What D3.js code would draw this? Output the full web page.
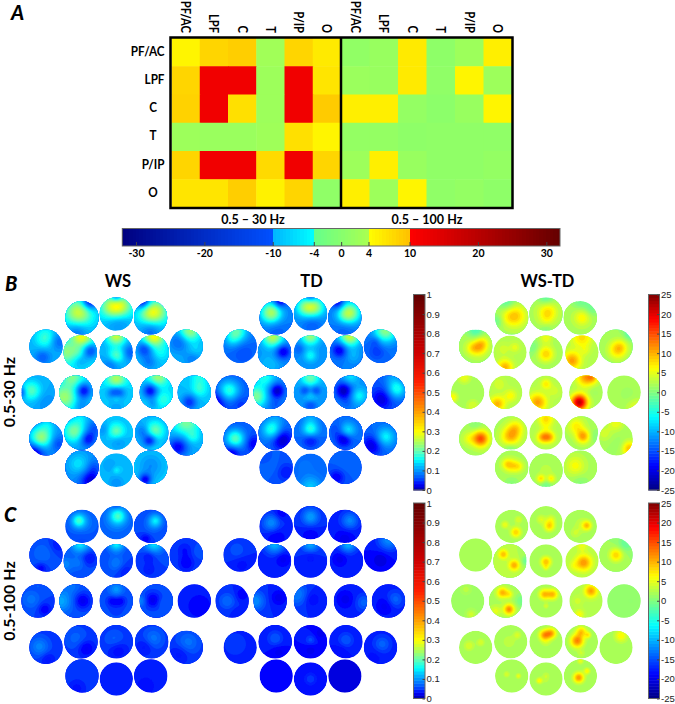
<!DOCTYPE html>
<html><head><meta charset="utf-8">
<script src="https://cdn.jsdelivr.net/npm/d3@7"></script>
<style>html,body{margin:0;background:#fff}svg{display:block}</style></head>
<body><svg id="c" width="675" height="704"></svg>
<script>
const regions=["PF/AC","LPF","C","T","P/IP","O"];
const coh30=[[5,8,8.7,3,8,6],[8,12,12,2.5,12,6.5],[8.3,12,7,2.5,12,9],[2.5,2.2,2.2,2.8,7,5],[8,12,12,7.5,12,8],[6.5,6.5,8.7,5.2,8,1]];
const coh100=[[1.2,2,6,.8,2.5,5.5],[2.3,2,6,1,5,2.5],[5.5,5.5,1.5,.6,2,5],[1.5,1.5,.8,1,1,1],[2.5,5.5,2,1,1,1.5],[5.5,2.5,5,1,1.5,.8]];
const barTicks=[-30,-20,-10,-4,0,4,10,20,30];
const unitTicks=[0,.1,.2,.3,.4,.5,.6,.7,.8,.9,1];
const diffTicks=[-25,-20,-15,-10,-5,0,5,10,15,20,25];
// each map: [base, [x,y,radius,delta]...] in unit-disc coordinates
const wsB=[
[.13,[-.2,-.3,.5,.14],[.45,-.95,.3,-.12],[-.3,.8,.4,-.05]],
[.14,[-.3,-.4,.4,.11],[.3,-.45,.4,.11],[0,-1.05,.2,-.1],[.1,.6,.5,-.04]],
[.13,[.3,-.35,.45,.13],[-.2,-.3,.4,.06],[-.45,-.95,.3,-.12],[0,.8,.4,-.05]],
[.12,[0,-.5,.4,.07],[.7,-.3,.35,-.05],[-.2,.65,.3,-.05]],
[.15,[.1,-1,.4,.15],[-.8,0,.4,.08],[.6,-.1,.3,-.09],[0,.5,.3,-.03],[-.1,0,.25,.03]],
[.12,[0,-1,.35,.15],[0,.2,.3,.08],[.85,0,.3,-.05],[-.3,.7,.3,-.04]],
[.13,[.1,-1,.4,.18],[-.45,-.2,.3,-.08],[.5,0,.3,.03],[-.2,.6,.3,-.04]],
[.12,[.2,-.9,.4,.12],[-.4,-.3,.4,-.05],[.5,.3,.3,.03],[.4,.7,.3,-.04]],
[.12,[-.4,-.1,.35,.08],[-1,0,.2,-.07],[.5,.6,.4,-.02]],
[.14,[-.7,.3,.45,.1],[-.2,-.9,.4,.08],[.45,-.1,.3,-.11],[.3,.8,.3,-.04]],
[.14,[0,-.8,.35,.11],[-.2,0,.25,-.06],[.2,0,.25,-.06],[0,.35,.2,.03],[0,.9,.3,-.03]],
[.14,[.1,-.9,.35,.1],[-.35,-.1,.3,-.11],[.4,.4,.3,.04],[-.2,.7,.2,-.03]],
[.13,[.3,-.2,.3,.05],[.3,-.9,.3,.04],[-.3,.6,.3,-.08]],
[.1,[-.3,-.05,.4,.14],[-.7,.8,.4,-.09],[.7,.3,.3,-.04],[.1,-.8,.3,.04]],
[.11,[-.4,-.1,.4,.11],[.4,.35,.3,-.08],[.8,-.3,.3,-.04],[0,-.9,.3,.03]],
[.13,[0,-.1,.3,.08],[-.8,-.2,.25,-.03],[.1,.5,.3,-.03]],
[.12,[.2,-.15,.35,.09],[-.1,.45,.25,-.1],[-.5,-.1,.25,-.04],[.1,.9,.3,.03]],
[.12,[0,-1,.5,.1],[-.5,.5,.4,-.09],[.4,-.1,.25,.04]],
[.1,[-.2,-.2,.4,.05],[.5,.8,.4,-.08],[.7,0,.3,-.03]],
[.13,[0,0,.15,.03],[-.4,-.3,.3,-.02],[0,.8,.3,-.03]],
[.14,[0,-.1,.5,-.04],[-.34,.76,.25,-.1]]];
const tdB=[
[.09,[-.3,-.3,.4,.16],[.2,-.95,.25,-.08],[0,.7,.4,-.02]],
[.1,[-.3,-.4,.35,.12],[.3,-.4,.35,.12],[0,-1.05,.2,-.06],[.1,.7,.4,-.03]],
[.09,[.3,-.3,.4,.16],[-.1,-.1,.3,.03],[-.4,-.9,.25,-.07],[0,.7,.4,-.02]],
[.08,[-.2,-.9,.4,.12],[-.5,-.4,.3,.04],[.2,.4,.4,-.02]],
[.1,[-.1,-.95,.4,.16],[.5,-.05,.3,-.08],[-.3,.7,.4,.03]],
[.1,[0,-1,.35,.14],[0,.2,.25,.06],[-.7,-.2,.2,-.03]],
[.09,[.2,-1,.4,.18],[-.4,-.15,.3,-.07],[.4,.2,.3,.03]],
[.08,[.3,-.95,.45,.15],[-.2,.3,.3,-.03],[-.3,-.3,.2,-.03]],
[.07,[-.2,-.1,.4,.11],[-.9,.5,.4,-.05],[.4,.6,.3,-.02]],
[.1,[-.85,.25,.4,.12],[-.3,-.9,.4,.07],[.4,-.1,.3,-.09],[.3,.8,.3,-.03]],
[.11,[0,-.9,.35,.1],[-.3,-.1,.2,-.06],[.3,-.1,.2,-.06],[0,.2,.25,.04],[0,.8,.25,-.05]],
[.1,[0,-.9,.3,.05],[-.4,-.1,.35,-.09],[.5,.2,.3,.06],[-.2,.7,.25,-.02]],
[.07,[.5,-.2,.35,.1],[-.4,.4,.4,-.05],[.2,-.9,.3,.03]],
[.07,[-.3,0,.35,.13],[.8,.3,.3,-.04],[-.5,.8,.3,-.05]],
[.08,[-.2,-.2,.35,.1],[.4,.4,.4,-.07],[.1,-.9,.3,.02]],
[.08,[0,-.2,.3,.1],[0,.4,.3,-.05],[0,-.9,.3,.03]],
[.08,[.1,-.15,.3,.08],[-.1,.35,.3,-.07],[-.5,-.2,.3,-.02]],
[.08,[.3,-.1,.35,.08],[-.5,.4,.4,-.06]],
[.07,[.6,.3,.35,-.03],[-.3,-.1,.3,.01],[-.6,-.5,.2,-.01]],
[.075,[0,1,.4,.06],[-.3,-.2,.3,.01]],
[.07,[-.5,.6,.3,-.04],[.1,-.3,.4,.01]]];
const diffB=[
[2.5,[.2,-.1,.4,7],[-.3,0,.3,1.5],[-.3,-1,.35,-4],[-.9,.2,.25,-3]],
[2.5,[.1,-.1,.35,6],[0,.4,.25,1.5],[0,-1.05,.3,-4],[0,1,.25,-2]],
[2.5,[.1,0,.3,4.5],[0,-1,.3,-3],[.7,-.6,.3,-3]],
[2.5,[.2,.1,.3,6],[.4,-.2,.25,4],[-.2,.1,.25,4],[0,-1,.3,-5]],
[2.5,[-.3,.9,.3,8],[.3,-.3,.2,3],[-.4,-.2,.25,2]],
[2,[0,.1,.3,7],[0,-.9,.25,4],[-.8,-.3,.25,-2]],
[2.5,[-.6,.5,.35,9],[0,-.9,.4,6],[.2,-.1,.2,2]],
[2,[.1,.2,.35,7],[.3,0,.25,2],[.9,-.8,.25,-5]],
[2,[-.9,.3,.2,5],[-.2,-.9,.25,4],[.3,.8,.25,3]],
[2.5,[-.5,.7,.3,8],[.3,.2,.25,4],[-.4,-.5,.25,2.5]],
[2.5,[-.5,.6,.35,9],[0,-.5,.2,5],[.5,-.1,.25,2]],
[2.5,[-.4,.6,.3,20],[0,-.9,.35,9],[.4,-.9,.2,5],[.5,0,.2,-1]],
[2.5,[.7,.9,.3,3],[.2,.1,.3,-1]],
[2.5,[.3,0,.3,13],[-.4,0,.25,3],[0,-.9,.25,-2]],
[2.5,[0,.2,.35,8],[.3,-.3,.3,5],[0,1,.25,-3]],
[2.5,[-.2,.25,.22,8],[.2,.25,.22,8],[0,-.85,.3,6],[0,-.3,.2,1.5]],
[2.5,[.1,.2,.25,9],[-.3,-.4,.3,5],[.9,.2,.25,-2]],
[2,[.8,.6,.3,8],[0,-.95,.3,4],[-.7,-.3,.3,2.5],[.2,.4,.3,-1]],
[2.5,[0,-.1,.25,5],[-.3,-.2,.2,4],[.4,-.05,.2,4],[0,1,.25,-2]],
[2.5,[-.3,.5,.15,6],[.3,.5,.15,5],[0,0,.25,1],[0,1,.25,-3]],
[2.5,[-.3,-.1,.35,4],[0,1,.3,-2]]];
const wsC=[
[.065,[-.2,-.35,.25,.1],[0,-.2,.45,.03],[0,.8,.4,-.01]],
[.065,[.1,-.4,.3,.1],[0,-.2,.55,.03],[0,-1.05,.15,-.03]],
[.06,[.3,-.35,.25,.08],[.1,-.1,.35,.02],[-.3,.75,.2,-.03]],
[.06,[-.2,-.1,.4,.02],[.7,-.6,.3,-.02],[-.3,.8,.2,-.03]],
[.065,[0,-1.05,.35,.09],[-.9,.2,.3,.03],[.5,-.2,.3,-.03],[-.1,.1,.25,.02]],
[.06,[0,-1.05,.3,.1],[0,.15,.3,.03],[.5,.6,.3,-.02]],
[.06,[.1,-1.05,.35,.09],[-.2,-.3,.25,-.025],[-.2,.5,.25,-.02]],
[.06,[-.1,-.3,.3,-.02],[0,.5,.3,-.03],[.7,-.2,.2,.01]],
[.06,[-.4,-.1,.35,.025],[.4,.5,.25,-.03],[0,-.9,.1,.01]],
[.065,[-.9,0,.4,.05],[-.3,-.9,.3,.02],[.4,0,.3,-.04]],
[.065,[0,-.7,.25,.04],[-.25,0,.2,-.03],[.25,0,.2,-.03],[0,.5,.3,-.01]],
[.065,[-.2,-.05,.3,-.04],[.3,.1,.2,.01],[-.95,0,.2,.03]],
[.05,[.3,.3,.5,-.02]],
[.055,[-.4,-.05,.35,.04],[.1,.7,.25,-.02]],
[.055,[-.3,-.2,.4,.02],[.3,.4,.3,-.03]],
[.055,[-.1,-.1,.35,.02],[.1,.5,.35,-.025]],
[.055,[.1,-.2,.35,.03],[-.4,.3,.3,-.02]],
[.055,[.1,-.3,.4,.03],[-.4,.4,.35,-.02]],
[.055,[-.3,.75,.3,-.02]],
[.05,[0,.9,.25,-.01]],
[.05,[-.3,.6,.5,-.015]]];
const tdC=[
[.05,[-.3,-.2,.3,.05],[0,.7,.4,-.02],[.3,-.8,.25,-.02]],
[.05,[0,-.35,.3,.06],[0,.8,.35,-.02]],
[.045,[.3,-.35,.3,.05],[0,.75,.35,-.02]],
[.05,[-.2,-.3,.3,.02],[.1,.6,.3,-.015]],
[.045,[0,-1.05,.35,.08],[.5,-.1,.25,-.02]],
[.05,[0,-1.05,.3,.07],[0,-.2,.25,-.015]],
[.045,[.1,-1.05,.3,.08],[-.4,-.1,.25,-.02]],
[.04,[.5,-.95,.4,.06],[0,.3,.3,-.02]],
[.05,[-.3,0,.3,.03],[.6,-.4,.25,-.02],[.3,.7,.2,-.01]],
[.05,[-.9,0,.35,.05],[.5,-.2,.3,-.025]],
[.05,[-.8,-.4,.4,.04],[.1,-.1,.3,-.02]],
[.045,[-.3,-.1,.3,-.02],[.8,.1,.3,.03]],
[.045,[.4,-.1,.3,.03],[-.2,.3,.3,-.02]],
[.04,[-.3,-.2,.5,.02]],
[.04,[0,-.2,.3,.03],[.2,.6,.25,-.015]],
[.04,[0,-.1,.2,.025],[.6,-.5,.25,-.015],[0,.5,.25,-.015]],
[.04,[0,-.1,.3,.03],[-.3,.5,.25,-.01]],
[.045,[.1,-.2,.3,.03],[-.4,.6,.3,-.01]],
[.03,[0,0,.2,.002]],
[.035,[0,0,.2,.025]],
[.03,[-.5,.4,.3,-.01]]];
const diffC=[
[2,[.25,.35,.2,7],[-.4,-.1,.15,4],[.4,-.4,.15,3]],
[2,[.2,.2,.2,7],[.3,-.2,.18,3],[-.3,-.2,.18,3]],
[2,[.4,-.05,.17,7],[.1,-.1,.3,2],[-.3,.4,.2,2]],
[2,[.7,.5,.3,1]],
[3,[-.4,-.4,.18,7],[.25,.25,.2,8],[1,0,.2,-4]],
[2,[0,.05,.2,8],[0,.4,.1,3]],
[3,[.1,.1,.3,9],[0,-.9,.2,3],[-.5,.3,.2,2]],
[2,[0,0,.25,7],[.6,-.7,.3,-3]],
[1.5,[-.1,-.7,.2,2],[.2,.8,.2,3]],
[2.5,[.2,.5,.2,10],[-.2,-.5,.2,8],[.2,-.4,.15,4],[-.6,.6,.2,3],[1,0,.25,-3]],
[2,[-.1,-.4,.2,8],[.4,-.4,.2,8],[0,.3,.1,3]],
[2.5,[.3,-.6,.25,9],[-.4,.8,.2,4],[-.5,0,.2,2]],
[1.5,[.4,0,.2,-.6]],
[2,[-.4,-.1,.2,3],[.3,-.3,.15,3]],
[2,[-.1,0,.25,2],[.4,-.4,.15,3]],
[2,[-.1,-.4,.2,9],[.3,-.5,.2,9],[0,0,.2,2]],
[2,[-.25,-.05,.25,11],[0,-.6,.2,7],[.4,-.4,.12,5],[0,.7,.15,2]],
[2,[.3,-.7,.25,5]],
[2,[-.3,-.1,.12,3],[.4,0,.1,4]],
[2,[-.4,.1,.12,5],[0,-.2,.15,2],[0,.1,.15,1]],
[2,[-.1,.1,.2,10],[.4,-.3,.12,5],[0,-.9,.12,4]]];
// electrode layout offsets relative to the panel centre (pixels)
const layoutDx=[-34.3,0,34.3,-70.3,-36,0,36,70,-78.3,-40.3,0,40,78,-70.3,-35.3,0,35.4,70,-34.3,0,34.4];
const layoutDy=[-74.6,-78.3,-74.6,-46,-40,-40,-40,-46,0,0,0,0,0,46.4,40.7,40.7,40.7,46.4,75,78,75];

const svg=d3.select("#c");
const defs=svg.append("defs");
defs.append("filter").attr("id","soft").append("feGaussianBlur").attr("stdDeviation",.45);
const boldFont="Lato, 'Liberation Sans', sans-serif";

// ---- Panel A ----
const barColor=d3.scaleLinear()
 .domain([-32,-10,-9.999,-4,-3.999,4,4.001,10,10.001,32])
 .range(["#000080","#0050ff","#00b4ff","#00ffff","#64ff8c","#aaff50","#ffff00","#ffc000","#ff0000","#640000"]);
const hx1=d3.scaleBand().domain(regions).range([171.5,341]);
const hx2=d3.scaleBand().domain(regions).range([341,512]);
const hy=d3.scaleBand().domain(regions).range([38,207.5]);
function heat(data,x){
  const g=svg.append("g");
  data.forEach((row,i)=>row.forEach((v,j)=>g.append("rect")
    .attr("x",x(regions[j])).attr("y",hy(regions[i]))
    .attr("width",x.bandwidth()+.5).attr("height",hy.bandwidth()+.5).attr("fill",barColor(v))));
  g.selectAll("text").data(regions).join("text")
   .attr("transform",d=>`translate(${x(d)+x.bandwidth()/2},33) rotate(90) scale(.86,1)`)
   .attr("text-anchor","end").attr("dy","0.35em")
   .attr("font-family",boldFont).attr("font-weight",700).attr("font-size",13).text(d=>d);
}
heat(coh30,hx1);heat(coh100,hx2);
svg.append("rect").attr("x",170.5).attr("y",37.5).attr("width",342).attr("height",170.5).attr("fill","none").attr("stroke","#000").attr("stroke-width",2.5);
svg.append("line").attr("x1",341).attr("x2",341).attr("y1",37).attr("y2",208).attr("stroke","#000").attr("stroke-width",2.5);
svg.append("g").selectAll("text").data(regions).join("text")
 .attr("transform",d=>`translate(${d.length>1?164.5:153},${hy(d)+hy.bandwidth()/2-1}) scale(.9,1)`)
 .attr("text-anchor",d=>d.length>1?"end":"middle").attr("dy","0.35em")
 .attr("font-family",boldFont).attr("font-weight",700).attr("font-size",13).text(d=>d);
[["0.5 – 30 Hz",253],["0.5 – 100 Hz",427]].forEach(([t,x])=>svg.append("text").attr("x",x).attr("y",219.5).attr("dy","0.35em")
 .attr("text-anchor","middle").attr("font-family",boldFont).attr("font-weight",700).attr("font-size",12.5).text(t));
const bx=d3.scaleLinear().domain([-32,32]).range([122.3,560]);
svg.append("g").selectAll("rect").data(d3.range(-32,32,.5)).join("rect")
 .attr("x",d=>bx(d)).attr("y",228.5).attr("width",d=>d<31.5?bx(.5)-bx(0)+1:bx(.5)-bx(0)).attr("height",17.5).attr("fill",d=>barColor(d+.25)).attr("shape-rendering","crispEdges");
svg.append("rect").attr("x",122.3).attr("y",228.5).attr("width",437.7).attr("height",17.5).attr("fill","none").attr("stroke","#666");
const ba=svg.append("g").attr("transform","translate(0,246)")
 .call(d3.axisBottom(bx).tickValues(barTicks).tickSize(-4).tickPadding(4).tickFormat(d=>String(d)));
ba.select(".domain").remove();ba.selectAll("line").attr("stroke","#444");
ba.selectAll("text").attr("font-family",boldFont).attr("font-weight",700).attr("font-size",10.5).attr("fill","#000");

// ---- Scalp maps ----
const unitColor=d3.scaleLinear().domain([0,.03,.06,.1,.13,.155,.2,.25,.3,.4,.55,.7,1])
 .range(["#0000a0","#0000ff","#0050ff","#0096ff","#00c8ff","#00ffff","#64ffb4","#b4ff50","#ffff00","#ffa000","#ff2000","#d00000","#600000"]);
const diffColor=d3.scaleLinear().domain([-25,-18.75,-6.25,0,6.25,18.75,25])
 .range(["#000080","#0000ff","#00ffff","#80ff80","#ffff00","#ff0000","#800000"]);
const unitLevels=d3.range(0,.62,.01), diffLevels=d3.range(-25,25,1);
const N=48, spread=1.55;
const contourGen=d3.contours().size([N,N]);
function field(m){
  const base=m[0],blobs=m.slice(1),vals=new Array(N*N);
  for(let j=0;j<N;j++)for(let i=0;i<N;i++){
    const x=(i+.5)/N*2-1,y=(j+.5)/N*2-1;let v=base;
    blobs.forEach(([bx,by,r,d])=>{const R=r*spread;const q=((x-bx)**2+(y-by)**2)/(R*R);v+=d*Math.exp(-q);});
    vals[i+j*N]=v;
  }
  return vals;
}
let clipId=0;
function panel(maps,cx,cy,color,levels){
  const g=svg.append("g").attr("filter","url(#soft)");
  maps.forEach((m,k)=>{
    const px=cx+layoutDx[k],py=cy+layoutDy[k],r=16.7,id="cp"+(clipId++);
    defs.append("clipPath").attr("id",id).append("circle").attr("cx",px).attr("cy",py).attr("r",r);
    const vals=field(m);
    const lo=d3.min(vals),hi=d3.max(vals);
    const used=levels.filter(t=>t>lo&&t<=hi);
    const cell=g.append("g").attr("clip-path",`url(#${id})`);
    cell.append("circle").attr("cx",px).attr("cy",py).attr("r",r).attr("fill",color(lo));
    const path=d3.geoPath(d3.geoTransform({point(x,y){this.stream.point(px-r+x/N*2*r,py-r+y/N*2*r);}}));
    cell.selectAll("path").data(contourGen.thresholds(used)(vals)).join("path")
      .attr("d",path).attr("fill",d=>color(d.value));
  });
}
panel(wsB,116.3,392.3,unitColor,unitLevels);
panel(tdB,310.5,392.3,unitColor,unitLevels);
panel(diffB,546,392.3,diffColor,diffLevels);
panel(wsC,116.3,601,unitColor,unitLevels);
panel(tdC,310.5,601,unitColor,unitLevels);
panel(diffC,546,601,diffColor,diffLevels);

// ---- Vertical colour bars ----
function vbar(x0,x1,y0,y1,color,dom,ticks){
  const y=d3.scaleLinear().domain(dom).range([y1,y0]);
  const step=(dom[1]-dom[0])/64;
  svg.append("g").selectAll("rect").data(d3.range(64)).join("rect")
   .attr("x",x0).attr("width",x1-x0).attr("y",i=>y(dom[0]+(i+1)*step)).attr("height",(y1-y0)/64+.5)
   .attr("fill",i=>color(dom[0]+(i+.5)*step));
  svg.append("rect").attr("x",x0).attr("y",y0).attr("width",x1-x0).attr("height",y1-y0).attr("fill","none").attr("stroke","#666");
  const a=svg.append("g").attr("transform",`translate(${x1},0)`)
   .call(d3.axisRight(y).tickValues(ticks).tickSize(-2.5).tickPadding(1.5).tickFormat(d=>String(d)));
  a.select(".domain").remove();a.selectAll("line").attr("stroke","#444");
  a.selectAll("text").attr("font-family","'Liberation Sans',sans-serif").attr("font-size",9.5).attr("fill","#222");
}
vbar(413.5,425,294.5,490,unitColor,[0,1],unitTicks);
vbar(413.5,425,503,698.5,unitColor,[0,1],unitTicks);
vbar(648.5,659.5,294.5,490,diffColor,[-25,25],diffTicks);
vbar(648.5,659.5,503,698.5,diffColor,[-25,25],diffTicks);

// ---- Titles ----
[["WS",118],["TD",311.5],["WS-TD",547.5]].forEach(([t,x])=>svg.append("text").attr("x",x).attr("y",281).attr("dy","0.35em")
 .attr("text-anchor","middle").attr("font-family",boldFont).attr("font-weight",700).attr("font-size",16.5).text(t));
[["A",11,20],["B",5,291],["C",4,522]].forEach(([t,x,y])=>svg.append("text").attr("x",x).attr("y",y)
 .attr("font-family",boldFont).attr("font-weight",900).attr("font-style","italic").attr("font-size",20).text(t));
[["0.5-30 Hz",392],["0.5-100 Hz",601]].forEach(([t,y])=>svg.append("text").attr("transform",`translate(9,${y}) rotate(-90)`)
 .attr("dy","0.35em").attr("text-anchor","middle").attr("font-family",boldFont).attr("font-weight",700).attr("font-size",16).text(t));
</script></body></html>
